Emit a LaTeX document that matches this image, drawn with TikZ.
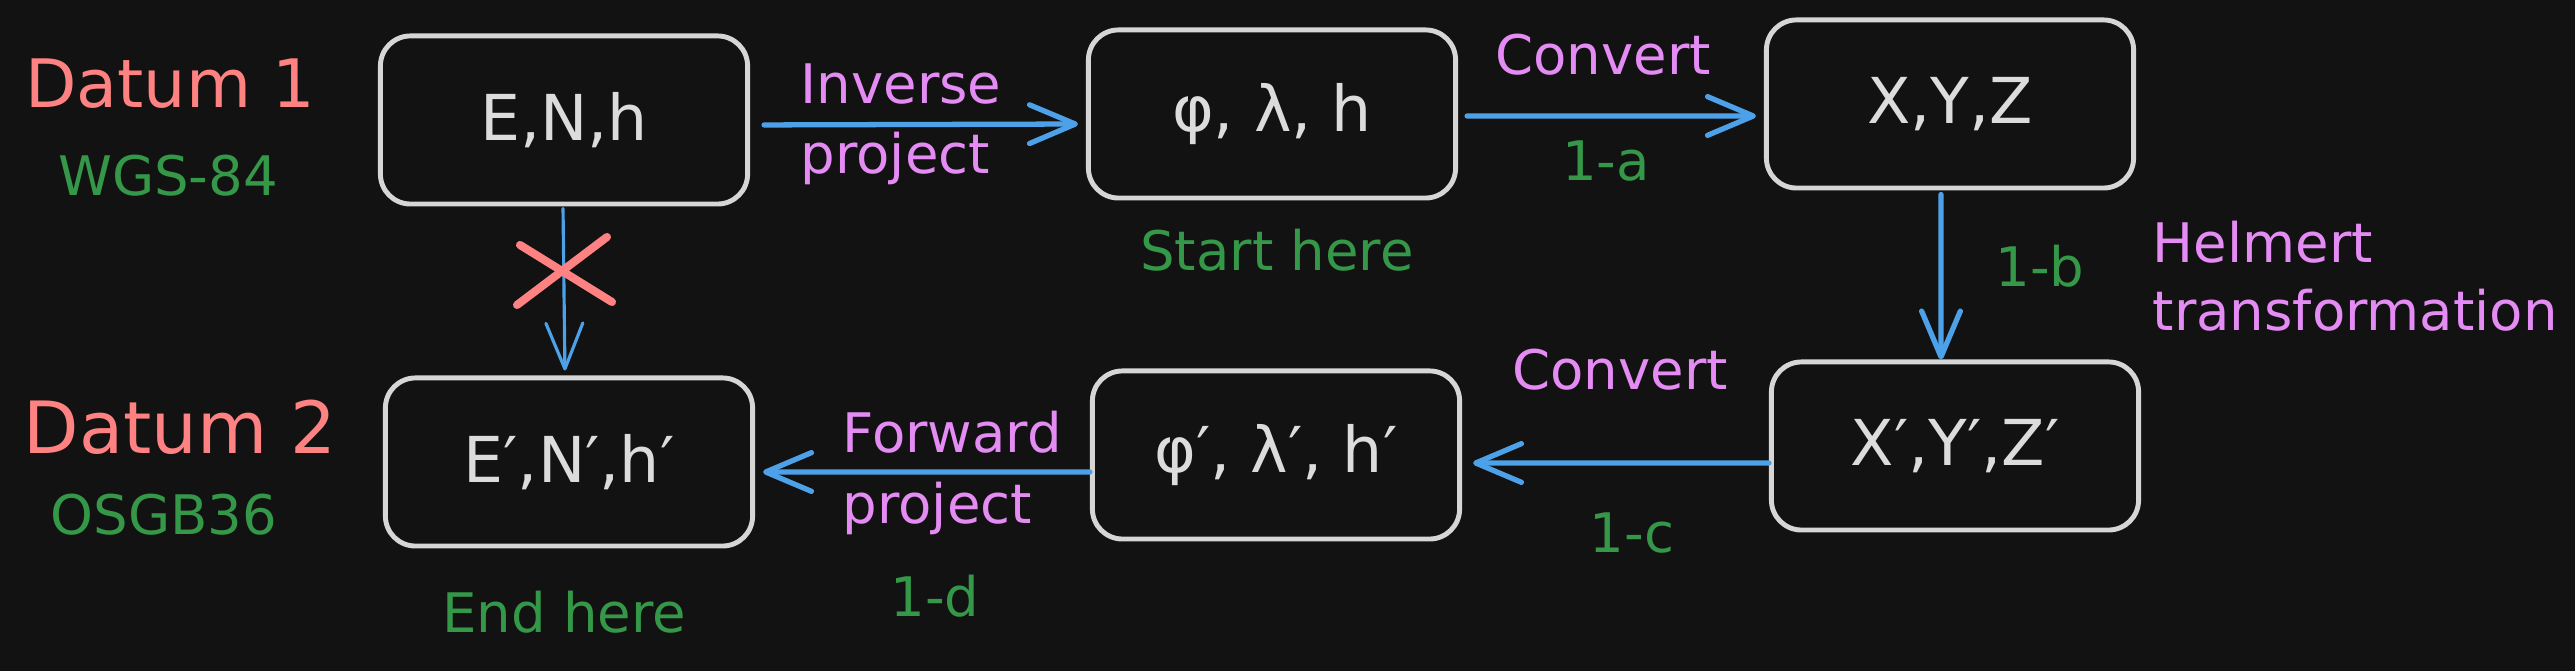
\documentclass[tikz,border=0pt]{standalone}
\usepackage{fontspec}
\setmainfont{DejaVu Sans}
\usetikzlibrary{arrows.meta}
\definecolor{bgc}{HTML}{121212}
\definecolor{boxc}{RGB}{214,214,214}
\definecolor{textc}{RGB}{220,220,220}
\definecolor{bluec}{RGB}{77,161,232}
\definecolor{redc}{RGB}{255,130,130}
\definecolor{greenc}{RGB}{52,152,72}
\definecolor{pinkc}{RGB}{228,140,244}
\begin{document}
\begin{tikzpicture}[x=0.01cm,y=-0.01cm,
  box/.style={draw=boxc, fill=bgc, line width=1.4pt, rounded corners=0.3cm,
    minimum width=3.67cm, minimum height=1.68cm, text=textc,
    font=\fontsize{18}{22}\selectfont, inner sep=0pt},
  arr/.style={draw=bluec, line width=1.5pt, line cap=round,
    -{Straight Barb[length=13pt,width=11pt,line cap=round,line join=round]}},
  thinarr/.style={draw=bluec, line width=0.9pt, line cap=round,
    -{Straight Barb[length=13pt,width=10.5pt,line cap=round,line join=round]}},
  lab/.style={text=pinkc, font=\fontsize{15.5}{20}\selectfont, align=left, inner sep=0pt},
  num/.style={text=greenc, font=\fontsize{15.5}{19}\selectfont, inner sep=0pt},
  datum/.style={text=redc, inner sep=0pt},
  cross/.style={draw=redc, line width=2.3pt, line cap=round}]
\fill[bgc] (0,0) rectangle (2575,671);
\useasboundingbox (0,0) rectangle (2575,671);

% boxes
\node[box] (b1) at (564,120) {E,N,h};
\node[box] (b2) at (1272,114) {φ, λ, h};
\node[box] (b3) at (1950,104) {X,Y,Z};
\node[box] (b4) at (1955,446) {X′,Y′,Z′};
\node[box] (b5) at (1276,455) {φ′, λ′, h′};
\node[box] (b6) at (569,462) {E′,N′,h′};

% side labels
\node[datum, font=\fontsize{19}{23}\selectfont] (d1) at (170,84) {Datum 1};
\node[num] (w84) at (168,176) {WGS-84};
\node[datum, font=\fontsize{20.5}{24}\selectfont] (d2) at (180,427) {Datum 2};
\node[num] (osgb) at (164,515) {OSGB36};

% arrows
\draw[arr, shorten <=0.14cm, shorten >=0.08cm] ([yshift=-0.05cm]b1.east) -- ([yshift=-0.1cm]b2.west);
\draw[arr, shorten <=0.09cm, shorten >=0.08cm] ([yshift=-0.02cm]b2.east) -- ([yshift=-0.12cm]b3.west);
\draw[arr, shorten <=0.04cm] ([xshift=-0.09cm]b3.south) -- ([xshift=-0.14cm]b4.north);
\draw[arr, shorten >=0.11cm] ([yshift=-0.17cm]b4.west) -- ([yshift=-0.08cm]b5.east);
\draw[arr, shorten >=0.08cm] ([yshift=-0.17cm]b5.west) -- ([yshift=-0.1cm]b6.east);
\draw[thinarr, shorten <=0.02cm, shorten >=0.05cm] ([xshift=-0.01cm]b1.south) -- ([xshift=-0.04cm]b6.north);

% red cross
\draw[cross] (520,245) -- (612,302);
\draw[cross] (517,305) -- (607,237);

% arrow labels
\node[lab, anchor=west] (inv) at (800,124) {Inverse\\project};
\node[lab] (conv1) at (1603,55) {Convert};
\node[num] (la) at (1606,161) {1-a};
\node[num] (start) at (1277,250) {Start here};
\node[num] (lb) at (2040,266) {1-b};
\node[lab, anchor=west, font=\fontsize{15.5}{19.5}\selectfont] (helm) at (2152,276) {Helmert\\transformation};
\node[lab] (conv2) at (1620,370) {Convert};
\node[num] (lc) at (1632,533) {1-c};
\node[lab, anchor=west] (fwd) at (842,473) {Forward\\project};
\node[num] (ld) at (935,596) {1-d};
\node[num] (endh) at (564,612) {End here};
\end{tikzpicture}
\end{document}
